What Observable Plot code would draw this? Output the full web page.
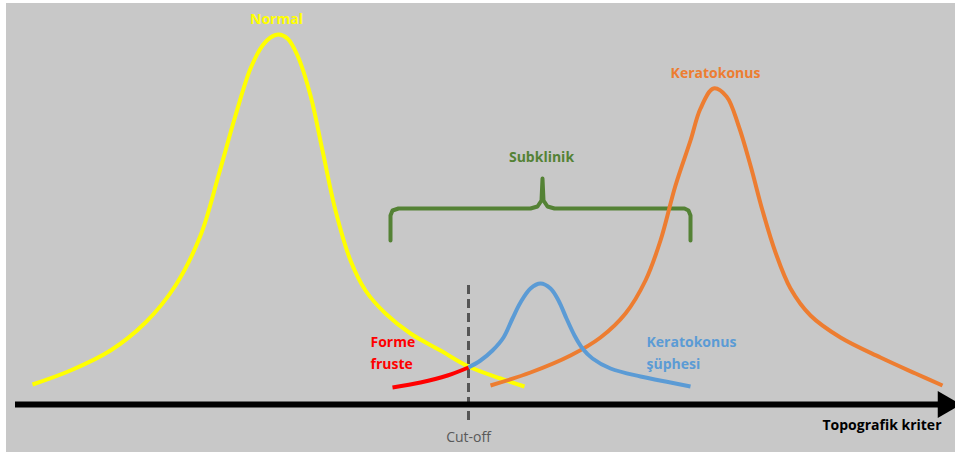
<!DOCTYPE html>
<html><head><meta charset="utf-8">
<script src="https://cdn.jsdelivr.net/npm/d3@7"></script>
<script src="https://cdn.jsdelivr.net/npm/@observablehq/plot@0.6"></script>
<style>
html,body{margin:0;padding:0;background:#fff;}
#chart{position:absolute;left:6px;top:3px;}
#chart svg{display:block;}
</style></head><body><div id="chart"></div>
<script>
// x: topographic criterion (arbitrary units), y: frequency (arbitrary units above the axis)
const normalX = [32,70,110,145,175,200,218,235,250,262,270,278,287,297,310,322,335,350,365,385,410,440,468,500,524];
const normalY = [20,34,54,82,119,169,229,289,336,359,367,370,366,349,309,254,194,144,114,91,71,54,38,26,18];

const keratoX = [490,530,570,600,625,645,660,675,690,700,713,726,738,750,762,775,790,810,840,880,915,942];
const keratoY = [19,32,49,67,91,124,164,219,264,296,316,308,279,239,194,152,116,89,67,47,31,19];

const suspectX = [468,480,492,503,512,520,530,540,550,558,566,574,582,592,610,640,670,690];
const suspectY = [37,44,54,67,86,102,116,121,116,104,86,69,56,46,36,28,22,18];

const ffX = [392,420,447,468];
const ffY = [17,22,29,37];

const braceX = [390,390,392,398,530,537,541,542,543,547,554,684,688,690,690];
const braceY = [164,189,194,196,196,198,204,226,204,198,196,196,194,189,164];

const cutoffX = 468;
const cutoffRange = [-16, 121];
const axisRange = [15, 945];

const labelText = ["Normal","Keratokonus","Subklinik","Forme","fruste","Keratokonus","şüphesi","Cut-off","Topografik kriter"];
const labelX = [276,715,541,370,370,646,646,468,941];
const labelY = [385,331,247,62,40,62,40,-33,-21];
const labelColor = ["#ffff00","#ed7d31","#548235","#ff0000","#ff0000","#5b9bd5","#5b9bd5","#595959","#000000"];
const labelAnchor = ["middle","middle","middle","start","start","start","start","middle","end"];
const labelWeight = ["bold","bold","bold","bold","bold","bold","bold","normal","bold"];

const zip = (xs, ys) => xs.map((x, i) => ({x, y: ys[i]}));
const labels = labelText.map((t, i) => ({t, x: labelX[i], y: labelY[i], c: labelColor[i], a: labelAnchor[i], w: labelWeight[i]}));

const curveOpts = (stroke) => ({x: "x", y: "y", stroke, strokeWidth: 4, curve: "catmull-rom", strokeLinecap: "butt"});

const chart = Plot.plot({
  width: 949, height: 449,
  marginTop: 0, marginRight: 0, marginBottom: 0, marginLeft: 0,
  x: {domain: [6, 955], axis: null},
  y: {domain: [-48, 401], axis: null},
  style: {background: "#c8c8c8", fontFamily: "'Open Sans', sans-serif"},
  marks: [
    Plot.ruleX([cutoffX], {y1: cutoffRange[0], y2: cutoffRange[1], stroke: "#555555", strokeWidth: 3, strokeDasharray: "9,5"}),
    Plot.line(zip(braceX, braceY), {x: "x", y: "y", stroke: "#548235", strokeWidth: 4, strokeLinejoin: "round"}),
    Plot.line(zip(normalX, normalY), curveOpts("#ffff00")),
    Plot.line(zip(keratoX, keratoY), curveOpts("#ed7d31")),
    Plot.line(zip(suspectX, suspectY), curveOpts("#5b9bd5")),
    Plot.line(zip(ffX, ffY), curveOpts("#ff0000")),
    Plot.ruleY([0], {x1: axisRange[0], x2: axisRange[1] - 5, stroke: "#000", strokeWidth: 6}),
    Plot.dot([axisRange[1]], {x: d => d, y: 0, symbol: "triangle", r: 10, fill: "#000", stroke: "none", rotate: 90}),
    ...["start","middle","end"].flatMap(a => ["bold","normal"].map(w =>
      Plot.text(labels.filter(d => d.a === a && d.w === w), {x: "x", y: "y", text: "t", fill: "c", textAnchor: a, fontWeight: w, fontSize: 14}))
    )
  ]
});
document.getElementById("chart").append(chart);
</script></body></html>
